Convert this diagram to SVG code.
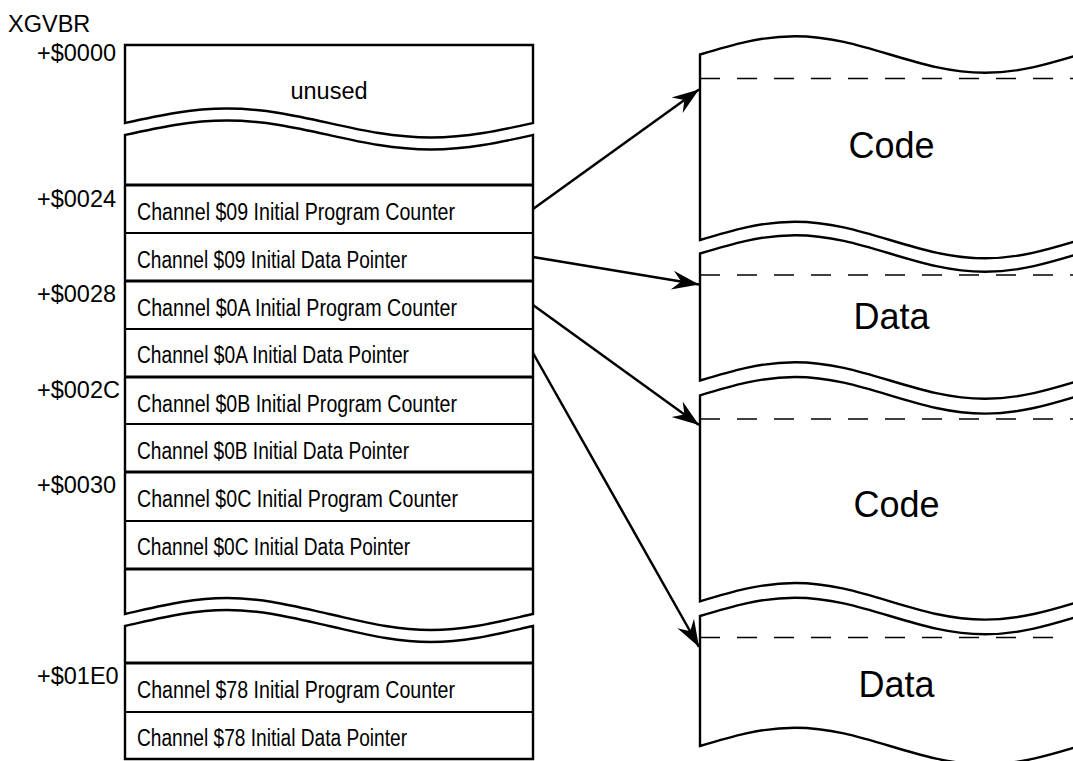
<svg xmlns="http://www.w3.org/2000/svg" width="1073" height="761" viewBox="0 0 1073 761">
<style>
  .t { font-family: "Liberation Sans", Arial, Helvetica, sans-serif; fill: #000; }
  .lbl { font-size: 23.5px; }
  .row { font-size: 23.5px; }
  .big { font-size: 36px; text-anchor: middle; }
  .ol { fill: #fff; stroke: #000; stroke-width: 2.4; stroke-linejoin: miter; }
  .thick { stroke: #000; stroke-width: 3.2; }
  .thin { stroke: #000; stroke-width: 2; }
  .dash { stroke: #000; stroke-width: 1.5; stroke-dasharray: 20 17; fill: none; }
  .con { stroke: #000; stroke-width: 2.5; fill: none; marker-end: url(#arr); }
</style>
<defs>
  <marker id="arr" markerUnits="userSpaceOnUse" viewBox="-30 -12 32 24" refX="0" refY="0" markerWidth="32" markerHeight="24" orient="auto">
    <path d="M0,0 L-27,-9.5 L-18,0 L-27,9.5 Z" fill="#000"/>
  </marker>
</defs>
<rect width="1073" height="761" fill="#fff"/>

<text class="t lbl" x="8" y="32">XGVBR</text>

<g id="blockUnused">
  <path class="ol" d="M533,45 H125 V123 C158.3,115.6 190.1,108.5 227,108.5 C263.9,108.5 295.7,115.6 329,123 C362.3,130.4 394.1,137.5 431,137.5 C467.9,137.5 499.7,130.4 533,123 Z"/>
  <text class="t lbl" x="329" y="99" text-anchor="middle">unused</text>
  <text class="t lbl" x="37" y="61">+$0000</text>
</g>

<g id="blockChannels">
  <path class="ol" d="M125,135 C158.3,127.6 190.1,120.5 227,120.5 C263.9,120.5 295.7,127.6 329,135 C362.3,142.4 394.1,149.5 431,149.5 C467.9,149.5 499.7,142.4 533,135 V614 C499.7,621.4 467.9,630 431,630 C394.1,630 362.3,621.4 329,614 C295.7,606.6 263.9,598 227,598 C190.1,598 158.3,606.6 125,614 Z"/>
  <line class="thick" x1="125" y1="185" x2="533" y2="185"/>
  <line class="thin" x1="125" y1="233" x2="533" y2="233"/>
  <line class="thick" x1="125" y1="281" x2="533" y2="281"/>
  <line class="thin" x1="125" y1="329" x2="533" y2="329"/>
  <line class="thick" x1="125" y1="377" x2="533" y2="377"/>
  <line class="thin" x1="125" y1="424" x2="533" y2="424"/>
  <line class="thick" x1="125" y1="472" x2="533" y2="472"/>
  <line class="thin" x1="125" y1="521" x2="533" y2="521"/>
  <line class="thick" x1="125" y1="569" x2="533" y2="569"/>
  <g id="row09pc"><text class="t row" x="137" y="220" textLength="318" lengthAdjust="spacingAndGlyphs">Channel $09 Initial Program Counter</text></g>
  <g id="row09dp"><text class="t row" x="137" y="268" textLength="270" lengthAdjust="spacingAndGlyphs">Channel $09 Initial Data Pointer</text></g>
  <g id="row0Apc"><text class="t row" x="137" y="316" textLength="320" lengthAdjust="spacingAndGlyphs">Channel $0A Initial Program Counter</text></g>
  <g id="row0Adp"><text class="t row" x="137" y="363" textLength="272" lengthAdjust="spacingAndGlyphs">Channel $0A Initial Data Pointer</text></g>
  <g id="row0Bpc"><text class="t row" x="137" y="412" textLength="320" lengthAdjust="spacingAndGlyphs">Channel $0B Initial Program Counter</text></g>
  <g id="row0Bdp"><text class="t row" x="137" y="459" textLength="272" lengthAdjust="spacingAndGlyphs">Channel $0B Initial Data Pointer</text></g>
  <g id="row0Cpc"><text class="t row" x="137" y="507" textLength="321" lengthAdjust="spacingAndGlyphs">Channel $0C Initial Program Counter</text></g>
  <g id="row0Cdp"><text class="t row" x="137" y="555" textLength="273" lengthAdjust="spacingAndGlyphs">Channel $0C Initial Data Pointer</text></g>
  <text class="t lbl" x="37" y="206.5">+$0024</text>
  <text class="t lbl" x="37" y="302">+$0028</text>
  <text class="t lbl" x="37" y="398">+$002C</text>
  <text class="t lbl" x="37" y="493">+$0030</text>
</g>

<g id="blockLast">
  <path class="ol" d="M125,626 C158.3,618.6 190.1,610 227,610 C263.9,610 295.7,618.6 329,626 C362.3,633.4 394.1,642 431,642 C467.9,642 499.7,633.4 533,626 V759 H125 Z"/>
  <line class="thick" x1="125" y1="663" x2="533" y2="663"/>
  <line class="thin" x1="125" y1="712" x2="533" y2="712"/>
  <g id="row78pc"><text class="t row" x="137" y="698" textLength="318" lengthAdjust="spacingAndGlyphs">Channel $78 Initial Program Counter</text></g>
  <g id="row78dp"><text class="t row" x="137" y="746" textLength="270" lengthAdjust="spacingAndGlyphs">Channel $78 Initial Data Pointer</text></g>
  <text class="t lbl" x="37" y="684">+$01E0</text>
</g>

<g id="code1">
  <path class="ol" d="M1080,54.5 C1049,63.9 1019.4,72.8 985,72.8 C950.6,72.8 921,63.9 890,54.5 C859,45.1 829.4,36.2 795,36.2 C760.6,36.2 731,45.1 700,54.5 V240 C731,230.6 760.6,221.7 795,221.7 C829.4,221.7 859,230.6 890,240 C921,249.4 950.6,258.3 985,258.3 C1019.4,258.3 1049,249.4 1080,240"/>
  <line class="dash" x1="700" y1="78.5" x2="1073" y2="78.5"/>
  <text class="t big" x="891.5" y="157.5">Code</text>
</g>

<g id="data1">
  <path class="ol" d="M1080,253.5 C1049,262.9 1019.4,271.8 985,271.8 C950.6,271.8 921,262.9 890,253.5 C859,244.1 829.4,235.2 795,235.2 C760.6,235.2 731,244.1 700,253.5 V380.5 C731,371.1 760.6,362.2 795,362.2 C829.4,362.2 859,371.1 890,380.5 C921,389.9 950.6,398.8 985,398.8 C1019.4,398.8 1049,389.9 1080,380.5"/>
  <line class="dash" x1="700" y1="275" x2="1073" y2="275"/>
  <text class="t big" x="891.5" y="328.5">Data</text>
</g>

<g id="code2">
  <path class="ol" d="M1080,395.3 C1049,404.7 1019.4,413.6 985,413.6 C950.6,413.6 921,404.7 890,395.3 C859,385.9 829.4,377 795,377 C760.6,377 731,385.9 700,395.3 V601.3 C731,591.9 760.6,583 795,583 C829.4,583 859,591.9 890,601.3 C921,610.7 950.6,619.6 985,619.6 C1019.4,619.6 1049,610.7 1080,601.3"/>
  <line class="dash" x1="700" y1="419" x2="1073" y2="419"/>
  <text class="t big" x="896.5" y="516.5">Code</text>
</g>

<g id="data2">
  <path class="ol" d="M1080,616 C1049,625.4 1019.4,634.3 985,634.3 C950.6,634.3 921,625.4 890,616 C859,606.6 829.4,597.7 795,597.7 C760.6,597.7 731,606.6 700,616 V746 C731,736.6 760.6,727.7 795,727.7 C829.4,727.7 859,736.6 890,746 C921,755.4 950.6,764.3 985,764.3 C1019.4,764.3 1049,755.4 1080,746"/>
  <line class="dash" x1="700" y1="637.5" x2="1060" y2="637.5"/>
  <text class="t big" x="896.5" y="696.5">Data</text>
</g>

<g id="connectors">
  <line class="con" x1="533" y1="209" x2="699" y2="89.5"/>
  <line class="con" x1="533" y1="257" x2="699" y2="284.5"/>
  <line class="con" x1="533" y1="305" x2="699" y2="425"/>
  <line class="con" x1="533" y1="353" x2="699" y2="647"/>
</g>
</svg>
